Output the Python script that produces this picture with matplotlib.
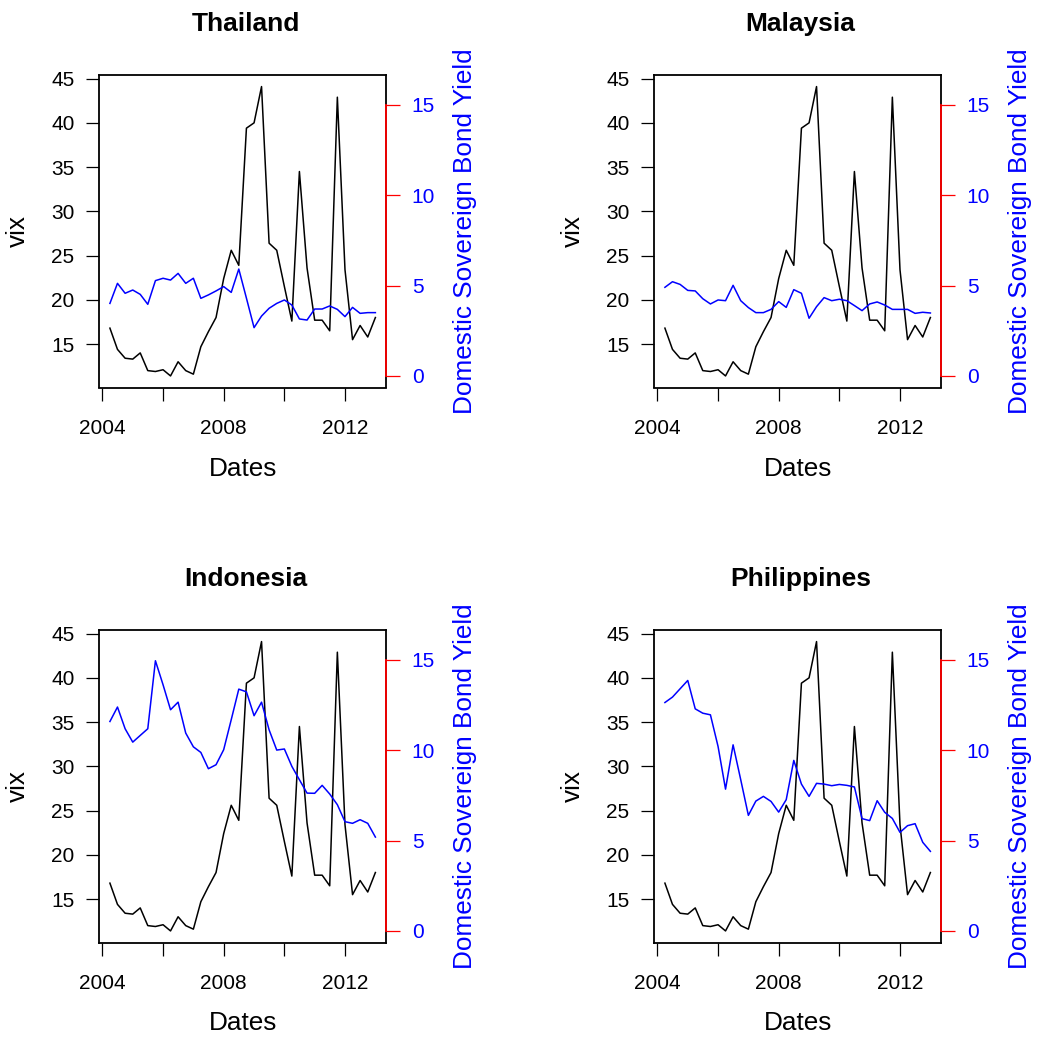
import matplotlib
matplotlib.use("Agg")
import matplotlib.pyplot as plt
import pandas as pd

plt.rcParams["font.family"] = ["Liberation Sans", "DejaVu Sans"]

# quarterly observations, 2004Q2 .. 2013Q1
DATES = pd.date_range("2004-04-01", "2013-01-01", freq="QS")

VIX = [16.8, 14.4, 13.4, 13.3, 14.0, 12.0, 11.9, 12.1, 11.4, 13.0, 12.0, 11.6,
       14.7, 16.4, 18.0, 22.4, 25.6, 23.9, 39.4, 40.0, 44.1, 26.4, 25.6, 21.5,
       17.6, 34.5, 23.6, 17.7, 17.7, 16.5, 42.9, 23.4, 15.5, 17.1, 15.8, 18.0]

THAILAND = [4.01, 5.12, 4.57, 4.75, 4.51, 3.96, 5.27, 5.40, 5.30, 5.67, 5.12, 5.40,
            4.29, 4.48, 4.70, 4.94, 4.62, 5.91, 4.30, 2.67, 3.31, 3.74, 4.01, 4.20,
            3.92, 3.15, 3.09, 3.70, 3.70, 3.87, 3.68, 3.28, 3.79, 3.46, 3.50, 3.50]

MALAYSIA = [4.90, 5.21, 5.06, 4.73, 4.70, 4.27, 3.98, 4.20, 4.16, 5.01, 4.16, 3.78,
            3.50, 3.50, 3.68, 4.11, 3.79, 4.77, 4.57, 3.19, 3.83, 4.33, 4.16, 4.24,
            4.16, 3.89, 3.61, 3.98, 4.09, 3.92, 3.68, 3.68, 3.68, 3.46, 3.52, 3.48]

INDONESIA = [11.58, 12.38, 11.18, 10.44, 10.81, 11.18, 14.94, 13.61, 12.23, 12.65, 10.94, 10.18,
             9.87, 8.97, 9.19, 10.02, 11.68, 13.37, 13.22, 11.90, 12.65, 11.12, 10.00, 10.06,
             9.10, 8.36, 7.62, 7.61, 8.05, 7.57, 6.98, 6.04, 5.95, 6.15, 5.95, 5.19]

PHILIPPINES = [12.63, 12.93, 13.39, 13.85, 12.28, 12.04, 11.95, 10.20, 7.84, 10.29, 8.36, 6.39,
               7.18, 7.44, 7.16, 6.57, 7.26, 9.43, 8.12, 7.44, 8.16, 8.12, 8.03, 8.10,
               8.05, 7.96, 6.21, 6.10, 7.20, 6.56, 6.22, 5.45, 5.82, 5.93, 4.90, 4.40]

PANELS = [
    ("Thailand", THAILAND, (99.3, 75)),
    ("Malaysia", MALAYSIA, (654.3, 75)),
    ("Indonesia", INDONESIA, (99.3, 630)),
    ("Philippines", PHILIPPINES, (654.3, 630)),
]

VIX_TICKS = [15, 20, 25, 30, 35, 40, 45]
YIELD_TICKS = [0, 5, 10, 15]
YIELD_LIM = (0, 16)
YEAR_TICKS = [2004, 2006, 2008, 2010, 2012]
YEAR_LABELS = ["2004", "", "2008", "", "2012"]

W, H = 1037, 1038
BOX_W, BOX_H = 286.7, 312.5


def r_range(lo, hi):
    pad = 0.04 * (hi - lo)
    return lo - pad, hi + pad


def draw_panel(fig, title, yields, left, top):
    ax = fig.add_axes([left / W, (H - top - BOX_H) / H, BOX_W / W, BOX_H / H])
    ax.plot(DATES, VIX, color="black", linewidth=1.1)

    x0, x1 = DATES[0], DATES[-1]
    span = x1 - x0
    ax.set_xlim(x0 - 0.04 * span, x1 + 0.04 * span)
    ax.set_ylim(*r_range(min(VIX), max(VIX)))

    ax.set_xticks([pd.Timestamp(f"{y}-01-01") for y in YEAR_TICKS])
    ax.set_xticklabels(YEAR_LABELS)
    ax.set_yticks(VIX_TICKS)
    ax.tick_params(axis="x", length=9.4, width=0.9, pad=13.5, labelsize=15)
    ax.tick_params(axis="y", length=9.4, width=0.9, pad=8.5, labelsize=15)
    for sp in ax.spines.values():
        sp.set_linewidth(1.3)

    # label offsets in pixels, measured from the box edges
    ax.set_xlabel("Dates", fontsize=18.8, va="center")
    ax.xaxis.set_label_coords(0.5, -81 / BOX_H)
    ax.set_ylabel("vix", fontsize=18.8, va="center")
    ax.yaxis.set_label_coords(-81 / BOX_W, 0.5)
    ax.set_title(title, fontweight="bold", fontsize=19, x=0.51,
                 y=(BOX_H + 44.3) / BOX_H, pad=0, va="baseline")

    ax2 = ax.twinx()
    ax2.plot(DATES, yields, color="blue", linewidth=1.1)
    ax2.set_ylim(*r_range(*YIELD_LIM))
    ax2.set_yticks(YIELD_TICKS)
    ax2.tick_params(axis="y", length=10, width=0.9, pad=8.5, labelsize=15,
                    color="red", labelcolor="blue")
    for name in ("left", "top", "bottom"):
        ax2.spines[name].set_visible(False)
    ax2.spines["right"].set_bounds(YIELD_TICKS[0], YIELD_TICKS[-1])
    ax2.spines["right"].set_color("red")
    ax2.spines["right"].set_linewidth(1.3)
    ax2.set_ylabel("Domestic Sovereign Bond Yield", fontsize=18.8,
                   color="blue", rotation=90, va="center")
    ax2.yaxis.set_label_coords(1 + 79 / BOX_W, 0.5)


fig = plt.figure(figsize=(W / 100, H / 100), dpi=100)
for title, yields, (left, top) in PANELS:
    draw_panel(fig, title, yields, left, top)

fig.savefig("out.png", dpi=100)
